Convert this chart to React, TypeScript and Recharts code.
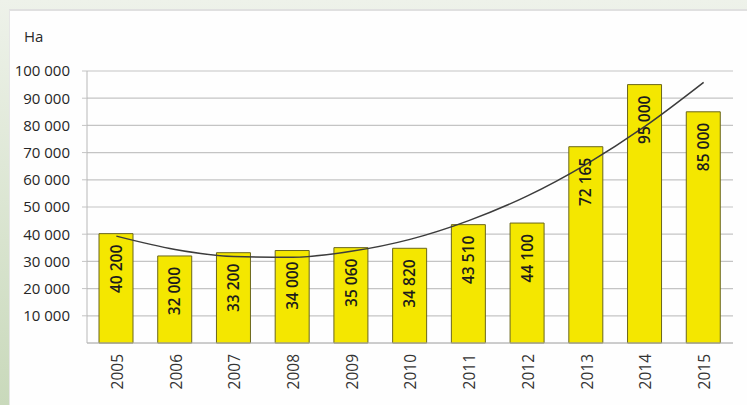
import { ComposedChart, Bar, Line, XAxis, YAxis, CartesianGrid, LabelList } from 'recharts'

// Planted area by year, hectares
const years = ['2005', '2006', '2007', '2008', '2009', '2010', '2011', '2012', '2013', '2014', '2015']
const areas = [40200, 32000, 33200, 34000, 35060, 34820, 43510, 44100, 72165, 95000, 85000]
// Polynomial trend line at each year
const trend = [39300, 34400, 31800, 31500, 33700, 38100, 45000, 54100, 65700, 79600, 95800]
const yTicks = [10000, 20000, 30000, 40000, 50000, 60000, 70000, 80000, 90000, 100000]

const data = years.map((year, i) => ({ year, area: areas[i], trend: trend[i] }))

const FONT = '"Open Sans", "DejaVu Sans", sans-serif'

// "40 200" style thousands separator
const fmt = (v: number) => String(v).replace(/\B(?=(\d{3})+(?!\d))/g, ' ')

function YearTick({ x, y, payload }: { x?: number; y?: number; payload?: { value: string } }) {
  return (
    <g transform={`translate(${(x ?? 0) + 1},${(y ?? 0) + 3})`}>
      <text
        transform="rotate(-90)"
        textAnchor="end"
        dy="0.35em"
        fontSize={15.5}
        fontFamily={FONT}
        fill="#333"
      >
        {payload?.value}
      </text>
    </g>
  )
}

function BarValue(props: { x?: number; y?: number; width?: number; value?: number }) {
  const { x = 0, y = 0, width = 0, value = 0 } = props
  const cx = x + width / 2
  const top = y + 11
  return (
    <text
      transform={`translate(${cx},${top}) rotate(-90)`}
      textAnchor="end"
      dy="0.36em"
      fontSize={15.5}
      fontWeight={600}
      fontFamily={FONT}
      fill="#1c1c1c"
    >
      {fmt(value)}
    </text>
  )
}

export default function App() {
  return (
    <div
      style={{
        position: 'absolute',
        top: 0,
        left: 0,
        width: 747,
        height: 405,
        overflow: 'hidden',
        background: 'linear-gradient(to bottom, #eef2ea, #c9d9bb)',
      }}
    >
      {/* white chart panel */}
      <div
        style={{
          position: 'absolute',
          left: 9,
          top: 9,
          width: 738,
          height: 396,
          background: '#fefefe',
          borderTop: '2px solid #e0e0e0',
          borderLeft: '1px solid #e6e6e6',
          boxSizing: 'border-box',
        }}
      />
      <div
        style={{
          position: 'absolute',
          left: 24,
          top: 26,
          fontFamily: FONT,
          fontSize: 15,
          color: '#2a2a2a',
        }}
      >
        Ha
      </div>
      <div style={{ position: 'absolute', left: 0, top: 0 }}>
        <ComposedChart
          width={747}
          height={405}
          data={data}
          margin={{ top: 71, right: 14, bottom: 0, left: 0 }}
        >
          <CartesianGrid vertical={false} stroke="#c4c4c4" strokeWidth={1.2} />
          <XAxis
            dataKey="year"
            height={62}
            interval={0}
            tickLine={false}
            axisLine={{ stroke: '#b8b8b8' }}
            tick={<YearTick />}
          />
          <YAxis
            width={87}
            domain={[0, 100000]}
            ticks={yTicks}
            interval={0}
            tickSize={5}
            tickMargin={12}
            tickLine={{ stroke: '#c4c4c4' }}
            axisLine={{ stroke: '#b8b8b8' }}
            tickFormatter={fmt}
            tick={{ fontSize: 15, fontFamily: FONT, fill: '#262626' }}
          />
          <Bar
            dataKey="area"
            barSize={34}
            fill="#f4e700"
            stroke="#6a661c"
            strokeWidth={1}
            isAnimationActive={false}
          >
            <LabelList dataKey="area" content={<BarValue />} />
          </Bar>
          <Line
            dataKey="trend"
            type="monotone"
            stroke="#3c3c3c"
            strokeWidth={1.5}
            dot={false}
            isAnimationActive={false}
          />
        </ComposedChart>
      </div>
    </div>
  )
}
